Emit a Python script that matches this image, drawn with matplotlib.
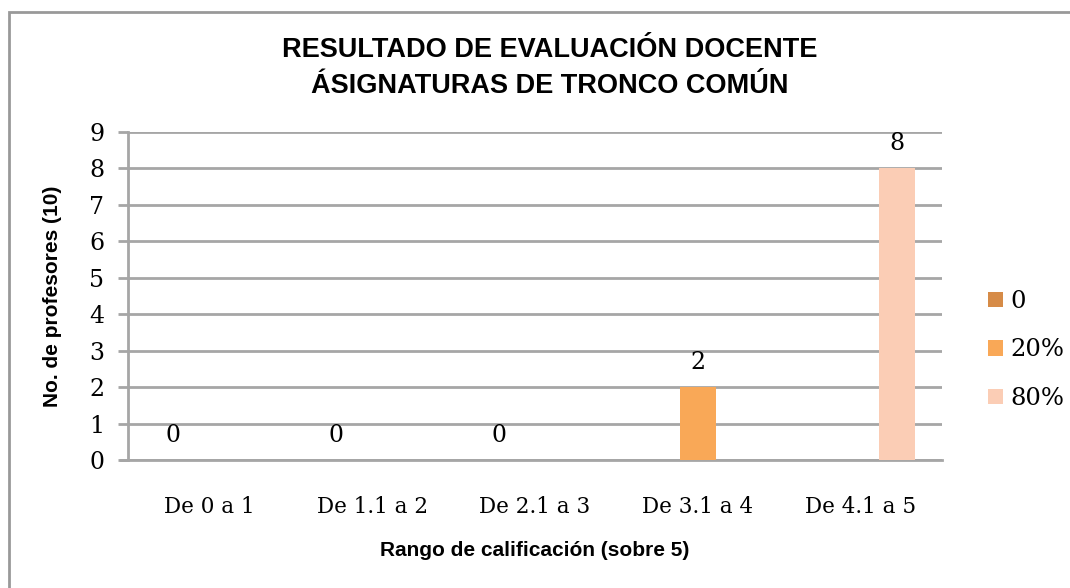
import numpy as np
import matplotlib
matplotlib.use("Agg")
import matplotlib.pyplot as plt
from matplotlib.patches import Rectangle

# datos
categorias = ['De 0 a 1', 'De 1.1 a 2', 'De 2.1 a 3', 'De 3.1 a 4', 'De 4.1 a 5']
series = ['0', '20%', '80%']
serie_0 = [0, 0, 0, np.nan, np.nan]
serie_20 = [np.nan, np.nan, np.nan, 2, np.nan]
serie_80 = [np.nan, np.nan, np.nan, np.nan, 8]
colores = ['#D68B47', '#F9A857', '#FBCDB5']

gris = '#A6A6A6'
serif = 'DejaVu Serif'
sans = 'Liberation Sans'

fig = plt.figure(figsize=(10.7, 5.88), dpi=100)
ax = fig.add_axes([128/1070, 1-460/588, (942-128)/1070, (460-132)/588])

x = np.arange(len(categorias))
ancho = 1/4.5
for i, (nombre, valores, color) in enumerate(zip(series, [serie_0, serie_20, serie_80], colores)):
    pos = x + (i-1)*ancho
    ax.bar(pos, valores, width=ancho, color=color, label=nombre, zorder=3)
    for p, v in zip(pos, valores):
        if not np.isnan(v):
            ax.annotate('%d' % v, (p, v), xytext=(0, 9.5), textcoords='offset points',
                        ha='center', va='bottom', fontsize=17, family=serif)

ax.set_xlim(-0.5, 4.5)
ax.set_ylim(0, 9)
ax.set_yticks(range(10))
ax.set_xticks(x)
ax.set_xticklabels(categorias, family=serif, fontsize=15.5)
ax.tick_params(axis='x', length=0, pad=26)
ax.tick_params(axis='y', length=7, width=2, color=gris, pad=10, labelsize=17,
               labelfontfamily=serif)
ax.grid(axis='y', color=gris, linewidth=2, zorder=0)
for s in ['top', 'right']:
    ax.spines[s].set_visible(False)
for s in ['left', 'bottom']:
    ax.spines[s].set_color(gris)
    ax.spines[s].set_linewidth(2)
ax.spines['bottom'].set_bounds(-0.5 - 7/162.8, 4.5)

ax.set_xlabel('Rango de calificación (sobre 5)', family=sans, fontweight='bold', fontsize=15)
ax.set_ylabel('No. de profesores (10)', family=sans, fontweight='bold', fontsize=15)
ax.xaxis.set_label_coords(0.5, (460-550)/328)
ax.yaxis.set_label_coords((53-128)/814, 0.5)
ax.xaxis.label.set_va('center')
ax.yaxis.label.set_va('center')

fig.text(550/1070, 1-50/588, 'RESULTADO DE EVALUACIÓN DOCENTE', family=sans, fontweight='bold',
         fontsize=19.5, ha='center', va='center')
fig.text(550/1070, 1-86/588, 'ÁSIGNATURAS DE TRONCO COMÚN', family=sans, fontweight='bold',
         fontsize=19.5, ha='center', va='center')

leg = ax.legend(loc='center left', bbox_to_anchor=(966/1070, 1-350/588), bbox_transform=fig.transFigure,
                frameon=False, prop={'family': serif, 'size': 17.5}, handlelength=0.62, handleheight=0.62,
                handletextpad=0.3, labelspacing=1.05)

fig.patches.append(Rectangle((9/1070, -0.1), 1.2, 1.1 - 12/588, transform=fig.transFigure,
                             fill=False, edgecolor='#999999', linewidth=2, clip_on=False))

fig.savefig('out.png', dpi=100)
